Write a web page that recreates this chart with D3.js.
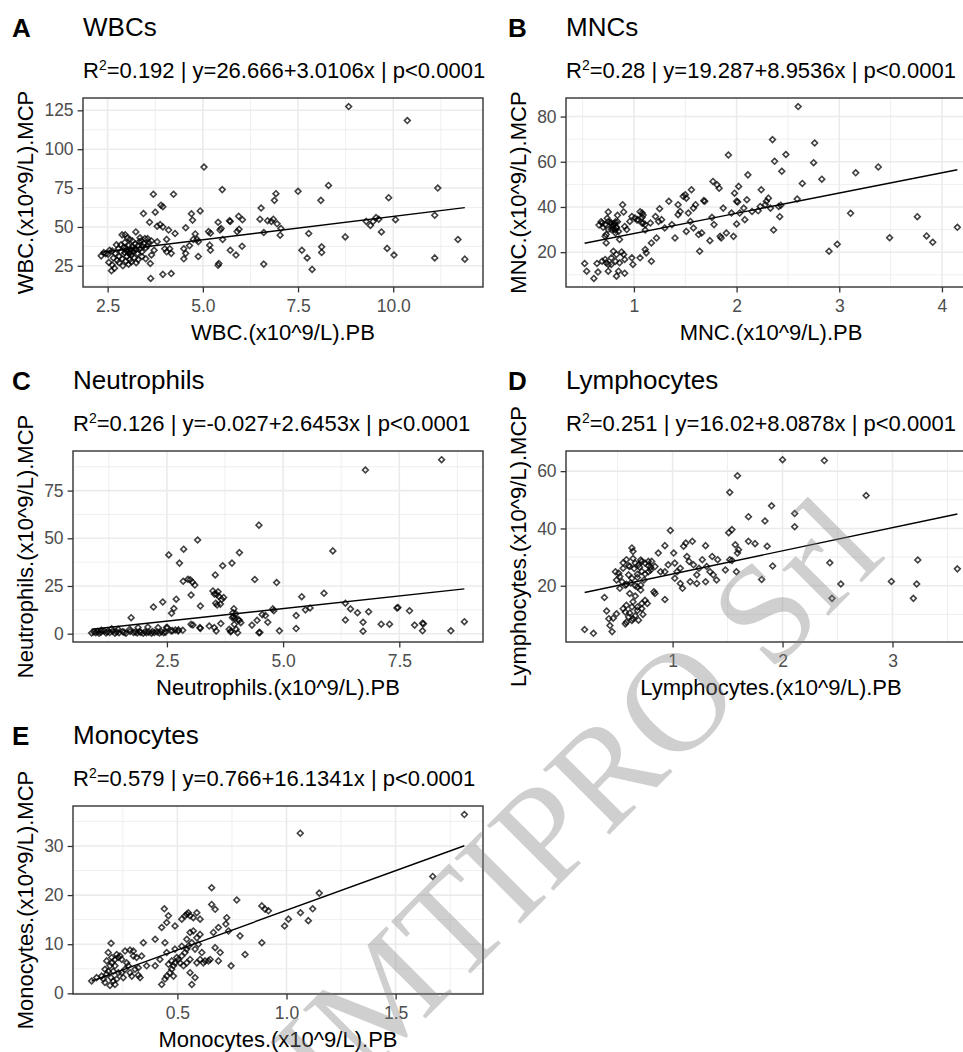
<!DOCTYPE html>
<html>
<head>
<meta charset="utf-8">
<script src="https://cdn.jsdelivr.net/npm/d3@7"></script>
<style>
    body { margin: 0; background: #fff; }
    svg { display: block; font-family: 'Liberation Sans', Arial, sans-serif; }
</style>
</head>
<body>
<svg id="chart" width="963" height="1052"></svg>
<script>
// Panel labels and texts
var panelTags = ['A', 'B', 'C', 'D', 'E'];
var panelTitles = ['WBCs', 'MNCs', 'Neutrophils', 'Lymphocytes', 'Monocytes'];
var xTitles = ['WBC.(x10^9/L).PB', 'MNC.(x10^9/L).PB', 'Neutrophils.(x10^9/L).PB', 'Lymphocytes.(x10^9/L).PB', 'Monocytes.(x10^9/L).PB'];
var yTitles = ['WBC.(x10^9/L).MCP', 'MNC.(x10^9/L).MCP', 'Neutrophils.(x10^9/L).MCP', 'Lymphocytes.(x10^9/L).MCP', 'Monocytes.(x10^9/L).MCP'];

// Regression results shown in the subtitles
var r2Values = ['0.192', '0.28', '0.126', '0.251', '0.579'];
var intercepts = [26.666, 19.287, -0.027, 16.02, 0.766];
var slopes = [3.0106, 8.9536, 2.6453, 8.0878, 16.1341];

// Tick values
var xTicks = [[2.5, 5, 7.5, 10], [1, 2, 3, 4], [2.5, 5, 7.5], [1, 2, 3], [0.5, 1, 1.5]];
var yTicks = [[25, 50, 75, 100, 125], [20, 40, 60, 80], [0, 25, 50, 75], [20, 40, 60], [0, 10, 20, 30]];
var xFormats = ['.1f', 'd', '.1f', 'd', '.1f'];

// [PB, MCP] pairs
var wbcPoints = [
    [8.83,127.4],[10.37,118.4],[5.03,88.5],[3.70,71.0],[4.23,71.0],[5.51,74.0],[7.50,72.9],[8.30,76.7],[11.17,75.0],[9.88,68.8],
    [6.92,71.4],[6.88,67.1],[8.10,67.1],[6.53,62.2],[11.09,57.5],[11.70,41.9],[11.88,29.3],[11.09,30.1],[10.06,54.7],[9.69,46.8],
    [9.84,36.2],[10.02,31.9],[9.29,53.6],[9.40,51.0],[9.55,56.0],[9.62,55.0],[9.47,53.5],[8.74,43.6],[7.78,45.8],[7.60,35.0],
    [7.74,30.1],[7.87,22.7],[8.12,37.2],[8.12,33.6],[6.60,26.1],[6.85,55.0],[6.95,52.0],[6.80,53.5],[7.05,49.0],[6.70,54.0],
    [7.03,44.7],[6.50,55.0],[6.60,46.4],[5.94,56.9],[6.04,54.6],[5.95,48.5],[5.90,47.0],[6.03,37.6],[5.87,31.9],[5.72,35.0],
    [5.70,54.0],[5.72,53.5],[5.52,41.9],[5.45,48.0],[5.48,49.0],[5.40,53.0],[5.40,25.4],[5.42,26.5],[5.20,46.0],[5.15,47.0],
    [5.18,38.3],[5.20,35.0],[4.93,60.3],[4.73,54.4],[4.70,58.5],[4.55,49.5],[4.80,45.5],[4.85,42.0],[4.88,40.5],[4.65,38.0],
    [4.75,42.0],[4.50,36.0],[4.55,33.0],[4.50,29.5],[4.88,31.0],[4.27,45.8],[4.10,48.0],[4.05,42.0],[4.13,36.0],[4.17,33.0],
    [4.17,20.0],[3.95,19.5],[3.63,16.9],[3.90,64.0],[3.95,63.0],[3.75,59.5],[3.44,58.6],[3.80,50.5],[3.88,51.5],[3.95,50.0],
    [3.60,53.0],[3.24,46.8],[2.96,45.0],[3.08,42.0],[3.55,42.5],[3.65,41.0],[3.80,40.5],[3.72,35.0],[3.65,32.0],[3.62,26.5],
    [4.00,36.0],[4.05,34.0],
    [2.33,31.4],[2.45,32.8],[2.51,32.5],[2.40,33.5],[2.53,27.2],[2.60,21.8],[2.68,23.5],[2.62,25.5],[2.73,38.5],[2.88,44.9],
    [2.55,35.0],[2.62,34.5],[2.70,33.0],[2.78,36.0],[2.80,31.0],[2.85,34.0],[2.88,29.5],[2.92,37.0],[2.95,33.5],[2.98,36.5],
    [3.00,31.0],[3.02,34.0],[3.05,38.0],[3.06,33.0],[3.08,29.0],[3.10,35.5],[3.12,32.0],[3.15,37.5],[3.18,34.0],[3.20,30.0],
    [3.22,39.0],[3.25,35.5],[3.28,33.0],[3.30,38.0],[3.33,40.5],[3.35,36.0],[3.38,41.0],[3.40,34.0],[3.42,37.5],[3.45,39.5],
    [3.48,42.5],[3.50,36.5],[3.55,38.0],[3.58,40.0],[2.98,28.0],[3.05,26.0],[3.12,27.5],[2.90,25.0],[2.80,27.0],[2.75,28.5],
    [3.30,29.0],[3.25,27.0],[3.40,31.0],[3.50,29.5],[3.15,41.0],[2.95,40.0],[3.02,43.0],[3.35,43.0],[2.65,30.0],[2.85,38.5],
    [3.00,35.0],[3.10,33.5],[3.20,36.0]
];

var mncPoints = [
    [0.52,15.0],[0.54,11.6],[0.61,8.4],[0.65,11.2],[0.64,15.0],[0.69,16.0],[0.72,16.8],[0.73,15.3],[0.75,14.6],[0.80,20.4],
    [0.83,19.0],[0.88,20.1],[0.91,16.8],[0.90,19.0],[0.86,15.3],[0.82,16.0],[0.78,14.6],[0.85,11.6],[0.83,9.4],[0.75,11.6],
    [0.78,17.5],[0.98,17.5],[0.99,14.6],[1.06,17.5],[1.11,21.2],[1.12,19.7],[1.17,16.0],[1.17,24.1],[1.22,26.3],[0.89,41.0],
    [0.90,37.8],[0.75,37.8],[0.84,36.3],[0.69,32.9],[0.72,32.2],[0.75,33.6],[0.78,32.9],[0.80,32.2],[0.82,33.4],[0.83,30.7],
    [0.85,29.2],[0.82,28.5],[0.78,30.0],[0.75,30.0],[0.73,27.8],[0.73,24.1],[0.86,25.6],[0.91,31.4],[0.93,30.0],[0.96,33.6],
    [0.98,35.8],[1.01,35.1],[1.04,34.4],[1.08,37.3],[1.08,35.4],[1.09,32.9],[1.11,32.2],[1.16,32.9],[1.21,35.8],[1.24,33.6],
    [1.27,34.4],[1.25,39.2],[1.30,30.7],[1.34,42.5],[1.37,32.2],[1.40,26.3],[1.43,41.0],[1.43,36.6],[1.45,38.0],[1.48,44.7],
    [1.50,45.4],[1.51,43.9],[1.53,37.3],[1.55,33.6],[1.56,47.6],[1.58,39.5],[1.60,41.0],[1.58,30.7],[1.51,29.2],[1.63,27.8],
    [1.64,20.4],[1.66,28.5],[1.69,42.5],[1.68,42.8],[1.74,25.1],[1.76,35.4],[1.78,32.2],[1.77,51.3],[1.81,49.8],[1.83,48.3],
    [1.84,27.0],[1.85,26.3],[1.87,39.5],[1.90,28.5],[1.92,63.0],[1.95,37.3],[1.97,27.0],[1.98,46.1],[2.00,42.5],[2.01,42.2],
    [2.02,49.1],[2.00,32.5],[2.03,37.3],[2.07,39.5],[2.08,34.4],[2.10,43.2],[2.11,54.2],[2.15,38.0],[2.21,38.3],[2.23,40.2],
    [2.24,47.6],[2.28,41.0],[2.29,42.5],[2.31,43.9],[2.33,39.5],[2.41,40.2],
    [2.60,84.4],[2.35,69.8],[2.76,68.3],[2.48,63.2],[2.37,60.2],[2.75,59.6],[2.44,55.8],[3.16,55.1],[3.38,57.7],[2.64,50.4],
    [2.83,52.3],[2.59,43.5],[3.11,37.2],[3.76,35.7],[4.15,31.0],[3.85,27.2],[3.91,24.4],[3.49,26.4],[2.98,23.5],[2.90,20.4],
    [2.36,29.8],[2.42,35.7],[2.43,40.8],
    [0.79,31.5],[0.81,32.8],[0.83,31.0],[0.80,30.2],[0.84,33.5],[0.77,33.0],[0.82,29.8],[0.70,31.0],[0.72,27.0],[0.68,33.5],
    [0.66,32.0],[0.74,35.0],[1.06,37.9],[1.08,32.8],[1.03,34.2],[1.11,29.8],[1.09,36.4],[0.91,10.7]
];

var neuPoints = [
    [8.41,91.2],[6.77,85.8],[4.48,56.9],[6.07,43.4],[3.16,49.1],[2.86,44.3],[2.54,41.3],[2.77,37.0],[4.06,42.5],[3.90,37.0],
    [3.70,35.6],[3.54,30.8],[4.39,28.4],[4.86,26.8],[5.88,21.2],[5.40,19.4],[2.85,27.5],[2.95,28.5],[3.00,28.3],[3.05,27.0],
    [3.10,25.5],[3.02,20.3],[3.22,14.5],[3.60,22.0],[3.62,19.5],[3.65,15.5],[3.68,18.0],[3.72,19.0],[2.70,18.1],[2.65,13.2],
    [2.60,10.7],[2.41,16.6],[2.21,14.0],[1.73,8.4],[3.94,13.1],[3.93,9.0],[3.98,10.5],[5.48,12.5],[5.58,13.5],[4.80,12.0],
    [4.78,13.0],[4.62,9.5],[5.28,9.5],[6.34,16.0],[6.45,13.0],[6.60,11.0],[6.84,11.5],[6.34,7.2],[6.72,6.0],[6.72,1.3],
    [7.11,5.0],[7.29,5.0],[7.45,13.5],[7.47,13.7],[7.72,12.0],[7.83,4.5],[8.00,5.5],[8.02,5.2],[8.00,1.5],[8.61,1.5],
    [8.90,6.3],[5.28,2.7],[4.92,1.5],[4.48,0.5],[4.50,0.7],[4.44,7.0],[4.67,6.0],[4.55,10.0],[4.33,4.5],
    [4.09,5.8],[4.06,7.0],[3.95,4.9],[3.99,2.3],[3.88,1.4],[3.84,2.3],[4.02,0.5],[3.91,8.4],[3.66,5.3],[3.56,1.4],
    [3.52,3.2],[3.41,4.0],[3.22,2.8],[3.21,3.2],[3.06,4.6],[3.02,4.9],[2.84,1.8],[2.74,1.4],[2.59,1.4],[2.49,3.2],
    [2.31,3.2],[2.09,3.5],[1.88,3.2],[1.70,2.3],[1.45,2.3],[1.31,2.6],[1.09,1.8],
    [3.49,22.4],[3.52,20.8],[3.57,20.5],[3.55,16.0],[3.58,15.0],[3.92,11.0],[3.96,8.0],[4.03,7.5],[3.87,1.0],[2.51,3.2],
    [2.62,1.6],[2.68,1.9],[2.75,2.0],
    [0.88,0.4],[0.93,0.9],[0.97,0.5],[1.01,1.2],[1.04,0.3],[1.08,0.8],[1.15,1.4],[1.19,0.4],[1.22,1.0],[1.27,0.6],
    [1.33,1.3],[1.38,0.3],[1.42,0.9],[1.47,0.5],[1.55,1.1],[1.58,0.7],[1.62,0.3],[1.71,1.2],[1.78,0.6],[1.82,0.9],
    [1.86,0.4],[1.91,1.1],[1.94,0.6],[1.99,0.2],[2.03,1.0],[2.06,0.5],[2.11,0.8],[2.17,0.3],[2.19,1.2],[2.23,0.6],
    [2.29,0.9],[2.34,0.4],[2.38,1.0],[2.43,0.5],[2.47,0.8]
];

var lymPoints = [
    [0.20,4.7],[0.28,3.4],[0.38,15.9],[0.40,11.2],[0.42,8.5],[0.43,6.1],[0.45,4.0],[0.46,8.7],[0.49,10.2],
    [0.48,24.9],[0.51,24.4],[0.52,23.2],[0.49,22.0],[0.54,21.4],[0.57,20.2],[0.52,19.1],[0.55,26.1],[0.58,29.1],[0.63,33.2],
    [0.64,32.0],[0.61,26.7],[0.66,27.9],[0.69,27.3],[0.72,28.5],[0.75,27.9],[0.78,28.5],[0.60,23.8],[0.63,22.6],[0.68,22.9],
    [0.71,20.2],[0.75,24.1],[0.80,26.5],[0.78,24.9],
    [0.61,17.3],[0.66,16.4],[0.64,14.4],[0.58,13.2],[0.55,12.0],[0.57,10.8],[0.60,9.1],[0.63,7.9],[0.58,7.3],[0.57,6.7],
    [0.68,12.6],[0.72,13.8],[0.68,11.4],[0.63,12.6],[0.72,12.0],[0.75,14.9],[0.77,13.8],[0.84,17.3],[0.93,15.2],[0.83,17.9],
    [0.68,19.6],[0.71,18.5],
    [0.98,39.3],[0.87,31.4],[0.93,34.0],[1.01,31.4],[1.02,27.9],[1.07,26.1],[1.10,33.8],[1.12,34.9],[1.13,30.2],[1.18,35.5],
    [1.15,28.5],[1.09,19.1],[1.07,20.8],[1.16,21.4],[1.22,20.8],[1.24,26.1],[1.27,29.1],[1.30,34.0],[1.30,21.4],[1.36,30.2],
    [1.37,23.8],[1.41,29.1],[1.48,25.5],[1.52,29.1],[1.51,38.5],[1.54,39.6],[1.52,52.6],[1.59,58.4],[1.57,34.3],[1.59,31.4],
    [1.60,32.6],[1.58,24.9],[1.54,28.8],[1.69,35.5],[1.75,34.7],[1.69,44.1],[1.81,22.2],[1.84,42.6],[1.86,33.8],[1.90,47.9],
    [1.91,26.9],[2.00,64.0],[2.11,45.2],[2.11,40.6],
    [0.93,24.9],[0.96,27.3],[0.89,24.9],[0.84,26.7],[0.81,28.5],[1.02,22.6],[1.04,24.9],[1.19,27.3],[1.22,23.8],[1.31,26.7],
    [1.34,24.9],[1.40,22.0],
    [2.38,63.7],[2.76,51.5],[2.43,28.0],[2.53,20.6],[2.45,15.6],[2.99,21.5],[3.23,29.0],[3.22,20.6],[3.19,15.6],[3.59,25.9],
    [0.55,28.0],[0.60,27.0],[0.65,26.0],[0.70,26.5],[0.72,25.0],[0.68,24.0],[0.62,21.0],[0.58,20.5],[0.66,20.0],[0.74,22.0],
    [0.78,27.0],[0.80,25.5],[0.71,29.0],[0.64,29.5],[0.64,8.5],[0.66,9.5],[0.61,10.5],[0.69,8.0],[0.73,10.0]
];

var monoPoints = [
    [0.107,2.5],[0.13,3.2],[0.153,3.5],[0.161,2.9],[0.168,2.2],[0.176,3.9],[0.183,4.5],[0.168,4.9],[0.191,5.6],[0.199,6.2],
    [0.176,6.6],[0.183,8.3],[0.199,7.3],[0.214,6.9],[0.222,7.9],[0.229,7.3],[0.237,7.6],[0.245,6.9],[0.214,5.6],[0.206,4.5],
    [0.196,3.2],[0.206,2.5],[0.222,2.9],[0.191,1.6],[0.214,1.8],[0.229,4.2],[0.245,4.2],[0.252,3.2],[0.26,4.9],[0.268,6.2],
    [0.275,5.6],[0.283,4.2],[0.291,3.5],[0.306,4.9],[0.321,5.2],[0.298,7.6],[0.313,7.3],[0.26,8.6],[0.283,8.8],[0.298,8.6],
    [0.196,10.2],[0.336,7.6],[0.344,10.3],[0.329,3.2],[0.321,3.7],[0.359,5.6],[0.398,11.0],[0.398,5.6],[0.42,6.9],[0.428,13.4],
    [0.443,10.3],[0.451,14.4],[0.459,15.8],[0.44,17.2],
    [0.428,1.8],[0.443,2.9],[0.451,3.5],[0.466,4.2],[0.474,4.9],[0.482,5.6],[0.489,6.2],[0.474,6.6],[0.497,7.3],[0.505,6.9],
    [0.512,6.2],[0.52,7.6],[0.535,8.3],[0.543,9.0],[0.55,9.6],[0.528,5.6],[0.543,6.2],[0.558,6.9],[0.482,3.5],[0.489,9.0],
    [0.459,5.9],[0.451,8.3],[0.52,9.6],
    [0.489,13.7],[0.52,15.1],[0.535,15.8],[0.543,16.1],[0.55,16.4],[0.558,15.8],[0.573,15.4],[0.589,16.4],[0.604,15.1],[0.558,12.4],
    [0.573,12.7],[0.589,11.3],[0.596,10.0],[0.612,8.3],[0.604,6.9],[0.619,6.2],[0.627,6.6],[0.604,12.0],[0.543,11.0],[0.566,10.3],
    [0.581,9.0],[0.558,4.2],[0.566,1.8],[0.581,3.2],[0.589,6.2],[0.657,21.5],[0.657,18.1],[0.673,17.1],[0.642,6.6],[0.65,6.9],
    [0.688,6.6],[0.696,8.3],[0.673,9.3],[0.665,12.4],[0.688,13.4],[0.722,14.1],[0.726,15.4],[0.734,12.7],[0.746,5.6],[0.772,19.0],
    [0.787,11.7],[0.81,7.9],[0.887,10.3],[0.887,17.8],[0.902,17.1],[0.917,16.8],[0.991,13.7],[1.009,15.1],[1.063,32.6],[1.064,16.4],
    [1.815,36.4],[1.67,23.8],[1.15,20.4],[1.12,17.2],[1.10,14.8]
];

var panelPoints = [wbcPoints, mncPoints, neuPoints, lymPoints, monoPoints];

// Panel boxes in the 963x1052 page
var boxes = [
    {left: 83, top: 98, right: 483, bottom: 287, tagX: 12},
    {left: 566, top: 98, right: 976, bottom: 287, tagX: 508},
    {left: 73, top: 451, right: 483, bottom: 642, tagX: 12},
    {left: 566, top: 451, right: 976, bottom: 642, tagX: 508},
    {left: 73, top: 806, right: 483, bottom: 994, tagX: 12}
];

var svg = d3.select('#chart');

// ggplot style: 5% padding on both sides of the data range
function expand(ext) {
    var pad = (ext[1] - ext[0]) * 0.05;
    return [ext[0] - pad, ext[1] + pad];
}

// Minor breaks halfway between majors, one step past each end
function minorTicks(major, domain) {
    var step = major[1] - major[0];
    var out = [];
    for (var i = -1; i < major.length; i++) {
        var m = major[0] + step * (i + 0.5);
        if (m >= domain[0] && m <= domain[1]) out.push(m);
    }
    return out;
}

function diamond(r) {
    return 'M0,' + (-r) + 'L' + r + ',0L0,' + r + 'L' + (-r) + ',0Z';
}

function drawPanel(i) {
    var box = boxes[i];
    var pts = panelPoints[i];
    var xDomain = expand(d3.extent(pts, function (d) { return d[0]; }));
    var yDomain = expand(d3.extent(pts, function (d) { return d[1]; }));

    var x = d3.scaleLinear().domain(xDomain).range([box.left, box.right]);
    var y = d3.scaleLinear().domain(yDomain).range([box.bottom, box.top]);

    var g = svg.append('g').attr('class', 'panel');

    // grid, minor first
    g.selectAll('.xminor').data(minorTicks(xTicks[i], xDomain)).enter().append('line')
        .attr('x1', x).attr('x2', x).attr('y1', box.top).attr('y2', box.bottom)
        .attr('stroke', '#ebebeb').attr('stroke-width', 0.8);
    g.selectAll('.yminor').data(minorTicks(yTicks[i], yDomain)).enter().append('line')
        .attr('y1', y).attr('y2', y).attr('x1', box.left).attr('x2', box.right)
        .attr('stroke', '#ebebeb').attr('stroke-width', 0.8);
    g.selectAll('.xmajor').data(xTicks[i]).enter().append('line')
        .attr('x1', x).attr('x2', x).attr('y1', box.top).attr('y2', box.bottom)
        .attr('stroke', '#ebebeb').attr('stroke-width', 1.6);
    g.selectAll('.ymajor').data(yTicks[i]).enter().append('line')
        .attr('y1', y).attr('y2', y).attr('x1', box.left).attr('x2', box.right)
        .attr('stroke', '#ebebeb').attr('stroke-width', 1.6);

    // points
    g.selectAll('.pt').data(pts).enter().append('path')
        .attr('class', 'pt')
        .attr('d', diamond(2.9))
        .attr('transform', function (d) { return 'translate(' + x(d[0]) + ',' + y(d[1]) + ')'; })
        .attr('fill', 'none')
        .attr('stroke', '#000')
        .attr('stroke-opacity', 0.75)
        .attr('stroke-width', 1.6);

    // fitted line over the x range of the data
    var xr = d3.extent(pts, function (d) { return d[0]; });
    var fit = xr.map(function (v) { return [v, intercepts[i] + slopes[i] * v]; });
    g.append('path')
        .attr('d', d3.line().x(function (d) { return x(d[0]); }).y(function (d) { return y(d[1]); })(fit))
        .attr('fill', 'none')
        .attr('stroke', '#000')
        .attr('stroke-width', 1.4);

    // border
    g.append('rect')
        .attr('x', box.left).attr('y', box.top)
        .attr('width', box.right - box.left).attr('height', box.bottom - box.top)
        .attr('fill', 'none').attr('stroke', '#333').attr('stroke-width', 1.4);

    // axes
    var xAxis = g.append('g')
        .attr('transform', 'translate(0,' + box.bottom + ')')
        .call(d3.axisBottom(x).tickValues(xTicks[i]).tickFormat(d3.format(xFormats[i])).tickSize(5.4).tickPadding(7));
    var yAxis = g.append('g')
        .attr('transform', 'translate(' + box.left + ',0)')
        .call(d3.axisLeft(y).tickValues(yTicks[i]).tickFormat(d3.format('d')).tickSize(5.4).tickPadding(4));

    [xAxis, yAxis].forEach(function (ax) {
        ax.attr('font-family', null).attr('font-size', null);
        ax.select('.domain').remove();
        ax.selectAll('.tick line').attr('stroke', '#333').attr('stroke-width', 1.3);
        ax.selectAll('.tick text').attr('fill', '#4d4d4d').style('font-size', '17.5px');
    });

    var maxW = d3.max(yAxis.selectAll('.tick text').nodes(), function (n) { return n.getComputedTextLength(); });

    // axis titles
    g.append('text')
        .attr('x', (box.left + box.right) / 2)
        .attr('y', box.bottom + 53)
        .attr('text-anchor', 'middle')
        .style('font-size', '22px')
        .text(xTitles[i]);

    g.append('text')
        .attr('transform', 'translate(' + (box.left - 9.5 - maxW - 11) + ',' + ((box.top + box.bottom) / 2) + ') rotate(-90)')
        .attr('text-anchor', 'middle')
        .style('font-size', '22px')
        .text(yTitles[i]);

    // tag, title and subtitle
    g.append('text')
        .attr('x', box.tagX).attr('y', box.top - 61)
        .style('font-size', '26px').style('font-weight', 'bold')
        .text(panelTags[i]);

    g.append('text')
        .attr('x', box.left).attr('y', box.top - 62)
        .style('font-size', '26px')
        .text(panelTitles[i]);

    var sub = g.append('text')
        .attr('x', box.left).attr('y', box.top - 20.5)
        .style('font-size', '22px');
    sub.append('tspan').text('R');
    sub.append('tspan').attr('dy', -8).style('font-size', '14px').text('2');
    sub.append('tspan').attr('dy', 8)
        .text('=' + r2Values[i] + ' | y=' + intercepts[i] + '+' + slopes[i] + 'x | p<0.0001');
}

for (var p = 0; p < panelPoints.length; p++) {
    drawPanel(p);
}

// watermark across the lower half
svg.append('text')
    .attr('transform', 'translate(582,862) rotate(-45)')
    .attr('text-anchor', 'middle')
    .style('font-family', "'Liberation Serif', 'Times New Roman', serif")
    .style('font-size', '142px')
    .attr('fill', '#808080')
    .attr('fill-opacity', 0.38)
    .text('SIMTIPRO Srl');
</script>
</body>
</html>
